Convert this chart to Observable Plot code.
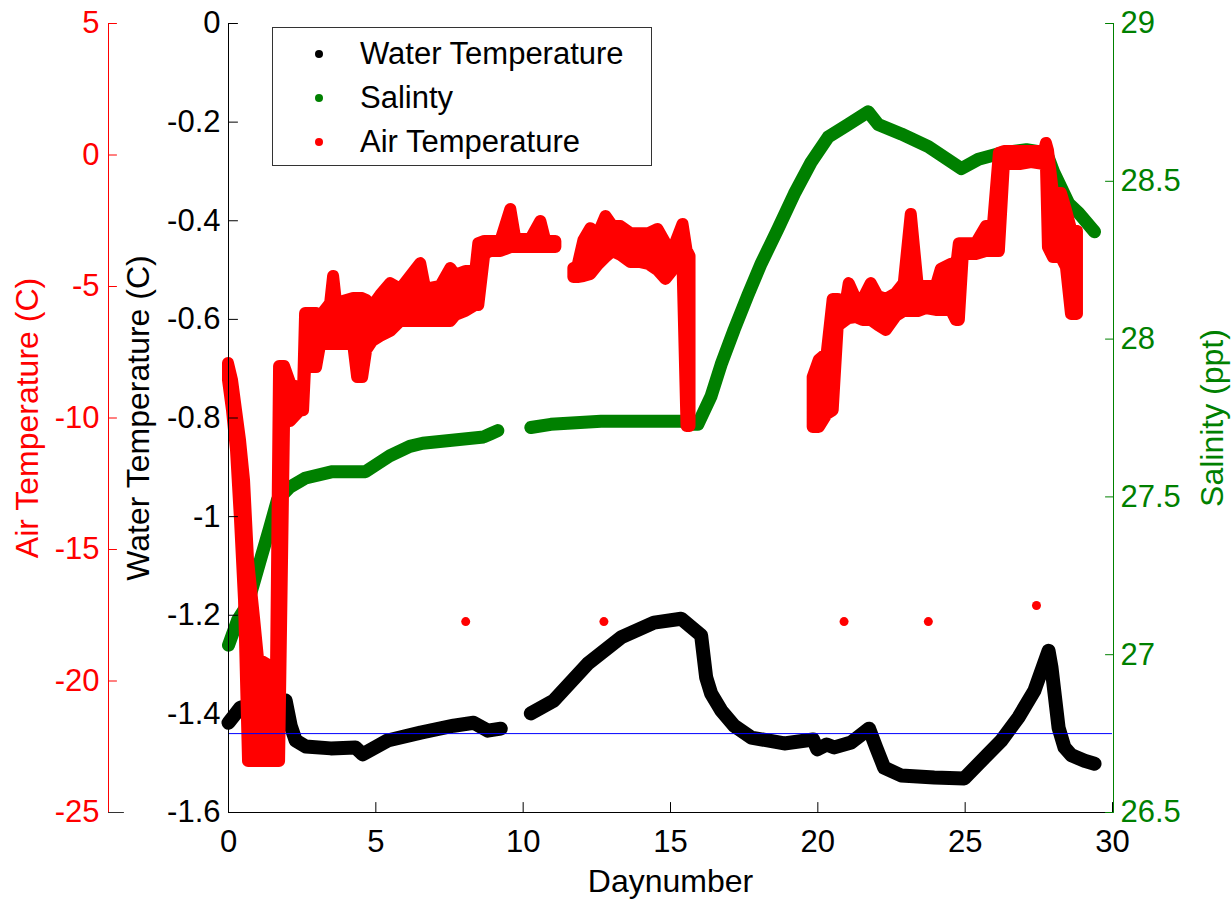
<!DOCTYPE html>
<html>
<head>
<meta charset="utf-8">
<script src="https://cdn.jsdelivr.net/npm/d3@7"></script>
<script src="https://cdn.jsdelivr.net/npm/@observablehq/plot@0.6"></script>
<style>
  html, body { margin: 0; padding: 0; background: #fff; }
  #wrap { position: relative; width: 1232px; height: 901px; font-family: "Liberation Sans", Arial, Helvetica, sans-serif; }
  #legend { position: absolute; left: 272px; top: 27px; width: 380px; height: 139px; border: 1px solid #333; background: #fff; box-sizing: border-box; }
  .row { position: absolute; left: 0; height: 36px; line-height: 36px; font-size: 31px; color: #000; white-space: nowrap; }
  .row .mk { position: absolute; left: 42px; top: 14px; width: 8px; height: 8px; border-radius: 50%; }
  .row .tx { position: absolute; left: 87px; }
</style>
</head>
<body>
<div id="wrap">
  <div id="chart"></div>
  <div id="legend"></div>
</div>
<script>
// ---------- data ----------
// Water temperature (C), black, left axis
const waterDay = [0,0.41,1.16,1.94,2.11,2.28,2.62,3.47,4.31,4.55,5.40,6.52,7.64,8.32,8.80,9.24,9.7,10.26,11.04,12.20,13.32,14.44,15.36,16.04,16.21,16.38,16.72,17.16,17.74,18.86,19.84,19.98,20.30,20.56,21.13,21.74,21.98,22.25,22.83,23.95,24.97,25.65,26.23,26.81,27.35,27.83,27.93,28.17,28.37,28.61,29.05,29.39];
const waterTemp = [-1.418,-1.387,-1.377,-1.373,-1.424,-1.454,-1.466,-1.470,-1.468,-1.482,-1.454,-1.438,-1.424,-1.418,-1.434,-1.430,null,-1.399,-1.373,-1.298,-1.245,-1.215,-1.207,-1.241,-1.326,-1.359,-1.393,-1.424,-1.448,-1.460,-1.452,-1.472,-1.462,-1.468,-1.458,-1.430,-1.468,-1.509,-1.525,-1.529,-1.531,-1.489,-1.454,-1.407,-1.353,-1.272,-1.306,-1.428,-1.468,-1.484,-1.495,-1.501];

// Salinity (ppt), green, right axis
const salDay = [0,0.31,0.65,1.05,1.39,1.66,2.07,2.62,3.53,4.45,4.65,5.47,6.15,6.59,8.66,8.90,9.14,9.7,10.26,10.94,12.64,14.00,15.36,15.76,15.93,16.38,16.72,17.16,17.63,18.08,18.65,19.20,19.77,20.35,21.03,21.71,22.05,22.83,23.75,24.87,25.45,26.23,27.08,27.76,28.00,28.51,28.85,29.39];
const salinity = [27.03,27.11,27.16,27.29,27.40,27.49,27.53,27.56,27.58,27.58,27.58,27.63,27.66,27.67,27.69,27.70,27.71,null,27.72,27.73,27.74,27.74,27.74,27.73,27.73,27.82,27.92,28.03,28.14,28.24,28.35,28.46,28.56,28.64,28.68,28.72,28.68,28.65,28.61,28.54,28.57,28.59,28.60,28.59,28.53,28.43,28.40,28.34];

// Air temperature (C), red, far-left axis: noisy band given as upper / lower envelope
const airDay = [0,0.136,0.272,0.408,0.544,0.680,0.883,1.019,1.427,1.631,1.733,1.903,2.107,2.446,2.548,2.616,2.990,3.126,3.466,3.567,3.669,4.247,4.383,4.553,4.689,4.892,5.164,5.504,5.844,6.523,6.693,7.203,7.543,7.712,8.052,8.392,8.494,8.698,8.902,9.241,9.581,9.751,10.261,10.600,10.770,11.110,
  11.4,
  11.72,11.858,12.061,12.299,12.537,12.809,13.047,13.319,13.658,13.998,14.270,14.575,14.847,15.085,15.425,15.561,15.663,
  17.5,
  19.842,20.046,20.318,20.521,20.691,20.963,21.065,21.303,21.541,21.812,22.050,22.322,22.662,22.933,23.171,23.409,23.681,24.021,24.190,24.530,24.700,24.802,24.938,25.380,25.720,25.957,26.161,26.331,26.908,27.248,27.690,27.758,27.826,27.996,28.268,28.438,28.608,28.811];
const airHigh = [-7.93,-8.57,-9.72,-10.86,-12.38,-15.42,-17.62,-19.18,-19.45,-19.45,-8.04,-8.04,-8.69,-8.95,-8.95,-6.03,-6.03,-6.14,-5.65,-4.62,-5.65,-5.46,-5.46,-5.46,-5.53,-5.76,-5.34,-4.89,-5.11,-4.13,-5.11,-5.00,-4.32,-4.58,-4.43,-4.43,-3.37,-3.29,-3.29,-3.29,-2.07,-3.21,-3.21,-2.53,-3.29,-3.29,
  null,
  -4.32,-4.24,-3.25,-2.80,-3.06,-2.34,-2.72,-2.72,-2.99,-2.99,-2.99,-2.83,-3.37,-3.63,-2.64,-3.63,-3.86,
  null,
  -8.46,-7.81,-7.55,-5.49,-5.49,-5.61,-4.89,-5.49,-5.49,-4.89,-5.38,-5.49,-5.27,-4.89,-2.26,-5.00,-5.00,-5.00,-4.35,-4.16,-4.35,-3.37,-3.37,-3.37,-2.72,-2.72,0.06,0.13,0.13,0.13,0.13,0.44,0.17,-1.46,-1.46,-2.11,-2.83,-2.91];
const airLow = [-8.57,-9.72,-11.24,-13.90,-16.94,-23.06,-23.06,-23.06,-23.06,-23.06,-23.06,-10.10,-10.13,-9.72,-9.72,-8.08,-8.08,-7.21,-7.21,-7.21,-7.21,-7.21,-8.46,-8.46,-7.43,-7.09,-6.90,-6.71,-6.33,-6.33,-6.33,-6.33,-6.33,-6.10,-5.95,-5.72,-5.72,-3.78,-3.67,-3.67,-3.52,-3.52,-3.52,-3.52,-3.52,-3.52,
  null,
  -4.66,-4.66,-4.62,-4.54,-4.20,-3.90,-3.67,-3.82,-4.09,-4.09,-4.16,-4.39,-4.73,-4.39,-4.20,-10.32,-10.32,
  null,
  -10.36,-10.36,-9.87,-9.72,-6.52,-6.29,-6.22,-6.18,-6.29,-6.29,-6.48,-6.67,-6.14,-5.95,-5.95,-5.95,-5.84,-5.91,-5.91,-5.91,-6.29,-6.29,-3.78,-3.78,-3.67,-3.67,-3.67,-0.36,-0.36,-0.29,-0.36,-0.36,-3.52,-3.90,-3.90,-4.28,-6.06,-6.06];
// isolated air-temperature readings
const airDotDay = [8.05,12.74,20.89,23.75,27.42];
const airDotTemp = [-17.74,-17.74,-17.74,-17.74,-17.13];

// reference line (water temperature)
const refLine = -1.44;

// ticks
const dayTicks = [0,5,10,15,20,25,30];
const waterTicks = [-1.6,-1.4,-1.2,-1,-0.8,-0.6,-0.4,-0.2,0];
const airTicks = [-25,-20,-15,-10,-5,0,5];
const salTicks = [26.5,27,27.5,28,28.5,29];

const legendLabels = ["Water Temperature", "Salinty", "Air Temperature"];
const colors = {water: "#000000", sal: "#008000", air: "#ff0000", ref: "#0000ff"};

// ---------- scale mapping of the secondary axes onto the water-temperature scale ----------
const waterDomain = [-1.6, 0];
const airDomain = [-25, 5];
const salDomain = [26.5, 29];
const span = waterDomain[1] - waterDomain[0];
const airToW = a => a == null ? null : waterDomain[0] + (a - airDomain[0]) / (airDomain[1] - airDomain[0]) * span;
const salToW = s => s == null ? null : waterDomain[0] + (s - salDomain[0]) / (salDomain[1] - salDomain[0]) * span;
const wToAir = w => airDomain[0] + (w - waterDomain[0]) / span * (airDomain[1] - airDomain[0]);
const wToSal = w => salDomain[0] + (w - waterDomain[0]) / span * (salDomain[1] - salDomain[0]);
const fmt = v => String(Math.round(v * 10) / 10);

const water = waterDay.map((d, i) => ({day: d, w: waterTemp[i]}));
const sal = salDay.map((d, i) => ({day: d, w: salToW(salinity[i])}));
const air = airDay.map((d, i) => ({day: d, hi: airToW(airHigh[i]), lo: airToW(airLow[i])}));
const airDots = airDotDay.map((d, i) => ({day: d, w: airToW(airDotTemp[i])}));

// straight tick shape for Plot.vector (points "up" before rotation)
const tickLine = {draw(context, l) { context.moveTo(0, 0); context.lineTo(0, -l); }};
const ticks = (data, opts) => Plot.vector(data, {anchor: "start", shape: tickLine, strokeWidth: 1, ...opts});

const FS = 31;
const chart = Plot.plot({
  width: 1232,
  height: 901,
  marginLeft: 228,
  marginRight: 120,
  marginTop: 23,
  marginBottom: 89,
  style: {fontFamily: '"Liberation Sans", Arial, Helvetica, sans-serif', fontSize: FS + "px", background: "#fff", color: "#000"},
  x: {domain: [0, 30], axis: null, label: null},
  y: {domain: waterDomain, axis: null, label: null},
  marks: [
    Plot.line(water, {x: "day", y: "w", stroke: colors.water, strokeWidth: 14, strokeLinecap: "round", strokeLinejoin: "round"}),
    Plot.line(sal, {x: "day", y: "w", stroke: colors.sal, strokeWidth: 13, strokeLinecap: "round", strokeLinejoin: "round"}),
    Plot.areaY(air, {x: "day", y1: "lo", y2: "hi", fill: colors.air, stroke: colors.air, strokeWidth: 12, strokeLinejoin: "round"}),
    Plot.dot(airDots, {x: "day", y: "w", r: 4.5, fill: colors.air, stroke: "none"}),
    Plot.ruleY([refLine], {stroke: colors.ref, strokeWidth: 1}),
    // axis lines
    Plot.ruleX([0], {stroke: "#000"}),
    Plot.ruleY([waterDomain[0]], {stroke: "#000"}),
    Plot.ruleX([0], {stroke: colors.air, dx: -120}),
    Plot.ruleX([30], {stroke: colors.sal, dx: 1}),
    // inward tick marks
    ticks(dayTicks, {x: d => d, frameAnchor: "bottom", rotate: 0, length: 10, stroke: "#000"}),
    ticks(waterTicks, {y: d => d, frameAnchor: "left", rotate: 90, length: 9, stroke: "#000"}),
    ticks(airTicks.map(airToW), {y: d => d, frameAnchor: "left", dx: -120, rotate: 90, length: 8, stroke: colors.air}),
    ticks([airToW(airDomain[0])], {y: d => d, frameAnchor: "left", dx: -120, rotate: 90, length: 15, stroke: "#333"}),
    ticks(salTicks.map(salToW), {y: d => d, frameAnchor: "right", dx: 1, rotate: -90, length: 8, stroke: colors.sal}),
    // tick labels
    Plot.axisX(dayTicks, {anchor: "bottom", label: null, tickSize: 0, tickPadding: 17, tickFormat: fmt, color: "#000"}),
    Plot.axisY(waterTicks, {anchor: "left", label: null, tickSize: 0, tickPadding: 8, tickFormat: fmt, color: "#000"}),
    Plot.axisY(airTicks.map(airToW), {anchor: "left", label: null, dx: -120, tickSize: 0, tickPadding: 9, tickFormat: w => fmt(wToAir(w)), color: colors.air}),
    Plot.axisY(salTicks.map(salToW), {anchor: "right", label: null, dx: 1, tickSize: 0, tickPadding: 7, tickFormat: w => fmt(wToSal(w)), color: colors.sal}),
    // axis titles
    Plot.text(["Daynumber"], {frameAnchor: "bottom", dy: 69, fontSize: 32, fill: "#000", textAnchor: "middle", lineAnchor: "middle"}),
    Plot.text(["Water Temperature (C)"], {frameAnchor: "left", dx: -90, rotate: -90, fontSize: 32, fill: "#000", textAnchor: "middle", lineAnchor: "middle"}),
    Plot.text(["Air Temperature (C)"], {frameAnchor: "left", dx: -201, rotate: -90, fontSize: 32, fill: colors.air, textAnchor: "middle", lineAnchor: "middle"}),
    Plot.text(["Salinity (ppt)"], {frameAnchor: "right", dx: 100, rotate: -90, fontSize: 32, fill: colors.sal, textAnchor: "middle", lineAnchor: "middle"})
  ]
});
document.getElementById("chart").appendChild(chart);

// legend
const legend = document.getElementById("legend");
const legendColors = [colors.water, colors.sal, colors.air];
legendLabels.forEach((lab, i) => {
  const row = document.createElement("div");
  row.className = "row";
  row.style.top = (8 + i * 44) + "px";
  row.innerHTML = `<span class="mk" style="background:${legendColors[i]}"></span><span class="tx">${lab}</span>`;
  legend.appendChild(row);
});
</script>
</body>
</html>
